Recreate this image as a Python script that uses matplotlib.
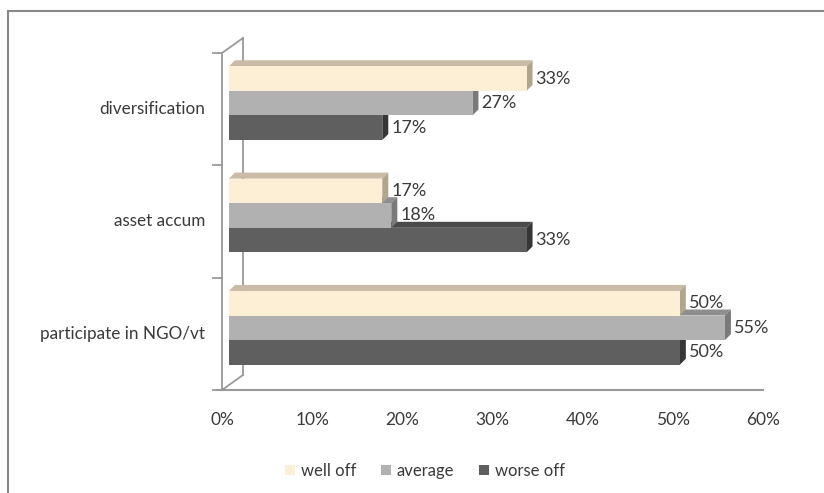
import numpy as np
import matplotlib
matplotlib.use("Agg")
import matplotlib.pyplot as plt
from matplotlib.patches import Polygon, Rectangle
from matplotlib.lines import Line2D
import matplotlib.transforms as mtransforms

# data
categories = ["participate in NGO/vt", "asset accum", "diversification"]
series = ["well off", "average", "worse off"]
well_off = [0.50, 0.17, 0.33]
average = [0.55, 0.18, 0.27]
worse_off = [0.50, 0.33, 0.17]
xticks = [0.0, 0.1, 0.2, 0.3, 0.4, 0.5, 0.6]

plt.rcParams['font.family'] = ['Lato', 'DejaVu Sans']

fig = plt.figure(figsize=(8.24, 4.93), dpi=100)
ax = fig.add_axes([222 / 824, 103 / 493, 541 / 824, 337 / 493])
ax.set_xlim(0, 0.6)
ax.set_ylim(-0.5, 2.5)
ax.axis('off')

# colours: front, top, side
cols = {
    "well off": ("#FCEFD6", "#C9BBA6", "#B2A58F"),
    "average": ("#B1B1B1", "#8E8E8E", "#7A7A7A"),
    "worse off": ("#5F5F5F", "#4A4A4A", "#363636"),
}
txt = '#3a3a3a'

h = 0.219
dx, dy = 6, 6            # depth of a bar in pixels
bar_shift = mtransforms.offset_copy(ax.transData, fig=fig, x=7, y=6, units='dots')

px_x = 541 / 0.6          # pixels per data unit (x)
px_y = 337 / 3.0          # pixels per data unit (y)
ddx, ddy = dx / px_x, dy / px_y

y = np.arange(len(categories))
# draw from the bottom bar up so upper front faces hide lower top faces
order = [("worse off", worse_off, -h), ("average", average, 0.0), ("well off", well_off, h)]
for name, vals, off in order:
    front, top, side = cols[name]
    for yi, v in zip(y, vals):
        y0 = yi + off - h / 2
        y1 = yi + off + h / 2
        ax.add_patch(Polygon([(0, y1), (v, y1), (v + ddx, y1 + ddy), (ddx, y1 + ddy)],
                             closed=True, facecolor=top, edgecolor='none',
                             transform=bar_shift, zorder=3))
        ax.add_patch(Polygon([(v, y0), (v + ddx, y0 + ddy), (v + ddx, y1 + ddy), (v, y1)],
                             closed=True, facecolor=side, edgecolor='none',
                             transform=bar_shift, zorder=3))
        ax.add_patch(Rectangle((0, y0), v, h, facecolor=front, edgecolor='none',
                               transform=bar_shift, zorder=4))
        ax.text(v + ddx + 3 / px_x, yi + off, "{:.0f}%".format(v * 100),
                transform=bar_shift, ha='left', va='center',
                fontsize=13, color=txt, zorder=5)

# wall and floor edges
wall = '#999999'
back_dx, back_dy = 21 / px_x, 15 / px_y
ax.plot([0, 0], [-0.5, 2.5], color=wall, lw=1.3, clip_on=False)
ax.plot([back_dx, back_dx], [-0.5 + back_dy, 2.5 + back_dy], color=wall, lw=1.3, clip_on=False)
ax.plot([0, back_dx], [2.5, 2.5 + back_dy], color=wall, lw=1.3, clip_on=False)
ax.plot([0, back_dx], [-0.5, -0.5 + back_dy], color=wall, lw=1.3, clip_on=False)
ax.plot([-5 / px_x, 0.6], [-0.5, -0.5], color=wall, lw=1.5, clip_on=False)
for yt in [-0.5, 0.5, 1.5, 2.5]:
    ax.plot([-9 / px_x, 0], [yt, yt], color=wall, lw=1.3, clip_on=False)

# category labels and x tick labels
for yi, c in zip(y, categories):
    ax.text(-17 / px_x, yi, c, ha='right', va='center', fontsize=12.3, color=txt)
for xt in xticks:
    ax.text(xt, -0.5 - 30 / px_y, "{:.0f}%".format(xt * 100), ha='center', va='center',
            fontsize=12.5, color=txt)

# legend
handles = [Rectangle((0, 0), 1, 1, facecolor=cols[s][0], edgecolor='none') for s in series]
fig.legend(handles, series, loc='center', bbox_to_anchor=(425 / 824, 1 - 471 / 493),
           ncol=3, frameon=False, fontsize=12, handlelength=0.6, handleheight=0.6,
           handletextpad=0.35, columnspacing=1.5, labelcolor=txt)

# outer chart border (left and top visible)
fig.add_artist(Line2D([8 / 824, 8 / 824], [0, 1 - 11 / 493], color='#888888', lw=1.5))
fig.add_artist(Line2D([8 / 824, 1], [1 - 11 / 493, 1 - 11 / 493], color='#888888', lw=1.5))

fig.savefig("out.png", dpi=100)
